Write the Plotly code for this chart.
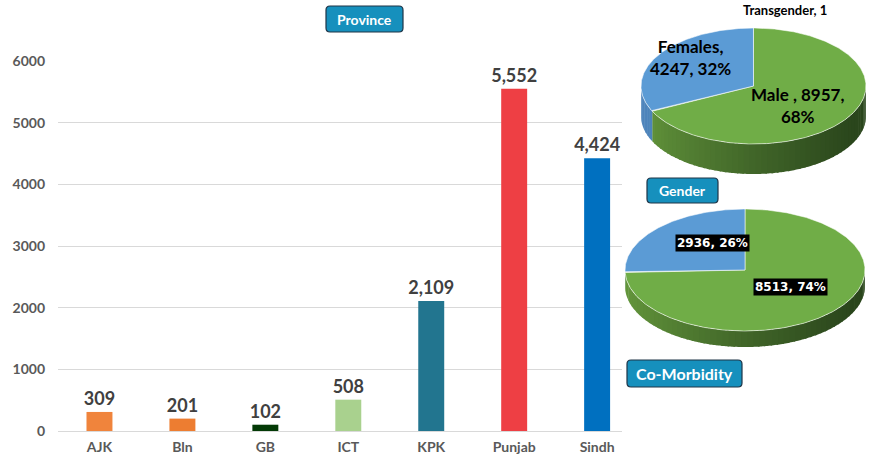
import numpy as np
import plotly.graph_objects as go

# ---------------- data ----------------
provinces = ["AJK", "Bln", "GB", "ICT", "KPK", "Punjab", "Sindh"]
cases = [309, 201, 102, 508, 2109, 5552, 4424]
bar_colors = ["#F0843C", "#ED7D31", "#033A06", "#A9D18E", "#22758F", "#EE3F44", "#0070C0"]
y_ticks = [0, 1000, 2000, 3000, 4000, 5000, 6000]

gender_labels = ["Male ", "Females", "Transgender"]
gender_values = [8957, 4247, 1]
gender_colors = ["#70AD47", "#5B9BD5", "#A5A5A5"]

comorb_values = [8513, 2936]
comorb_colors = ["#70AD47", "#5B9BD5"]

W, H = 874, 462
FONT = "Lato"

fig = go.Figure()

# ---------------- bar chart ----------------
fig.add_trace(go.Bar(
    x=provinces, y=cases, marker=dict(color=bar_colors, line=dict(width=0)),
    texttemplate="%{y:,}", textposition="outside", constraintext="none",
    cliponaxis=False,
    textfont=dict(family=FONT, size=18, color="#404040", weight="bold"),
    hoverinfo="skip", xaxis="x", yaxis="y", showlegend=False,
))

# ---------------- 3D-ish elliptical pies ----------------
def lerp_color(c1, c2, t):
    a = [int(c1[i:i + 2], 16) for i in (1, 3, 5)]
    b = [int(c2[i:i + 2], 16) for i in (1, 3, 5)]
    return "rgb(%d,%d,%d)" % tuple(round(a[k] + (b[k] - a[k]) * t) for k in range(3))

side_shades = {
    "#70AD47": ("#64973C", "#2A461C"),
    "#5B9BD5": ("#4F86BD", "#3A6A99"),
    "#A5A5A5": ("#8A8A8A", "#6A6A6A"),
}

def pie3d(values, colors, cx, cy, a, b, depth):
    total = float(sum(values))
    bounds = np.concatenate([[0], np.cumsum(values) / total * 360.0])
    # sides first
    for i, col in enumerate(colors):
        s, e = max(bounds[i], 90.0), min(bounds[i + 1], 270.0)
        if e <= s:
            continue
        n = max(1, int(np.ceil((e - s) / 3.0)))
        edges = np.linspace(s, e, n + 1)
        light, dark = side_shades[col]
        for k in range(n):
            hi = min(edges[k + 1] + 0.8, e)
            th = np.radians(np.linspace(edges[k], hi, 6))
            xs = cx + a * np.sin(th)
            yt = cy - b * np.cos(th)
            xp = np.concatenate([xs, xs[::-1]])
            yp = np.concatenate([yt, (yt + depth)[::-1]])
            t = (np.sin(np.radians((edges[k] + edges[k + 1]) / 2)) + 1) / 2
            t = min(1.0, t ** 0.8 * 1.05)
            c = lerp_color(light, dark, t)
            fig.add_trace(go.Scatter(
                x=xp, y=yp, fill="toself", fillcolor=c, mode="none",
                hoverinfo="skip", showlegend=False, xaxis="x2", yaxis="y2"))
    # top faces
    for i, col in enumerate(colors):
        s, e = bounds[i], bounds[i + 1]
        if e - s < 0.5:
            continue
        th = np.radians(np.linspace(s, e, max(4, int((e - s) * 1.5))))
        xp = np.concatenate([[cx], cx + a * np.sin(th), [cx]])
        yp = np.concatenate([[cy], cy - b * np.cos(th), [cy]])
        fig.add_trace(go.Scatter(
            x=xp, y=yp, fill="toself", fillcolor=col, mode="lines",
            line=dict(color="rgba(255,255,255,0.55)", width=1), hoverinfo="skip",
            showlegend=False, xaxis="x2", yaxis="y2"))

pie3d(gender_values, gender_colors, 753.5, 86, 112.5, 58, 30)
pie3d(comorb_values, comorb_colors, 745, 270, 120, 61, 16)

# ---------------- labels ----------------
gt = sum(gender_values)
gp = [round(v * 100 / gt) for v in gender_values]
ct = sum(comorb_values)
cp = [round(v * 100 / ct) for v in comorb_values]

ann = []
lab_font = dict(family=FONT, size=17, color="#000000", weight="bold")
ann.append(dict(x=785, y=0.5, yanchor="top", text=f"{gender_labels[2]}, {gender_values[2]}",
                font=dict(family=FONT, size=13, color="#000000", weight="bold"),
                borderpad=0))
ann.append(dict(x=690, y=57, text=f"{gender_labels[1]},<br>{gender_values[1]}, {gp[1]}%",
                font=lab_font))
ann.append(dict(x=797, y=105, text=f"{gender_labels[0]}, {gender_values[0]},<br>{gp[0]}%",
                font=lab_font))
box_font = dict(family="DejaVu Sans", size=12, color="#FFFFFF", weight="bold")
ann.append(dict(x=712, y=243, text=f"{comorb_values[1]}, {cp[1]}%", font=box_font,
                bgcolor="#000000", borderpad=1))
ann.append(dict(x=790, y=287, text=f"{comorb_values[0]}, {cp[0]}%", font=box_font,
                bgcolor="#000000", borderpad=1))

# ---------------- badges ----------------
def rrect(x0, y0, x1, y1, r):
    return (f"M {x0+r},{y0} L {x1-r},{y0} Q {x1},{y0} {x1},{y0+r} "
            f"L {x1},{y1-r} Q {x1},{y1} {x1-r},{y1} L {x0+r},{y1} "
            f"Q {x0},{y1} {x0},{y1-r} L {x0},{y0+r} Q {x0},{y0} {x0+r},{y0} Z")

badges = [
    ("Province", 326, 6, 403, 32, 14),
    ("Gender", 647, 178, 718, 203, 14),
    ("Co-Morbidity", 627, 360, 742, 387, 16),
]
shapes = []
for txt, x0, y0, x1, y1, fs in badges:
    shapes.append(dict(type="path", path=rrect(x0, y0, x1, y1, 4), xref="x2", yref="y2",
                       fillcolor="#1690BD", line=dict(color="#1E3447", width=1.2)))
    ann.append(dict(x=(x0 + x1) / 2, y=(y0 + y1) / 2, text=txt,
                    font=dict(family=FONT, size=fs, color="#FFFFFF", weight="bold")))

for a_ in ann:
    a_.setdefault("yanchor", "middle")
    a_.update(xref="x2", yref="y2", showarrow=False, xanchor="center")

fig.update_layout(
    width=W, height=H, margin=dict(l=0, r=0, t=0, b=0, autoexpand=False),
    paper_bgcolor="#FFFFFF", plot_bgcolor="rgba(0,0,0,0)",
    bargap=0.687, showlegend=False,
    annotations=ann, shapes=shapes,
    xaxis=dict(domain=[58 / W, 622 / W], range=[-0.5, 6.3], showgrid=False,
               showline=False, ticks="", zeroline=False, fixedrange=True,
               automargin=False,
               tickfont=dict(family=FONT, size=14, color="#595959", weight="bold"),
               ticklabelstandoff=6, anchor="y"),
    yaxis=dict(domain=[(H - 431) / H, (H - 61) / H], range=[0, 6000],
               tickvals=y_ticks, showgrid=True, gridcolor="#D9D9D9", gridwidth=1,
               zeroline=True, zerolinecolor="#D9D9D9", zerolinewidth=1,
               showline=False, ticks="", fixedrange=True, automargin=False,
               tickfont=dict(family=FONT, size=14, color="#595959", weight="bold"),
               ticklabelstandoff=12, anchor="x"),
    xaxis2=dict(domain=[0, 1], range=[0, W], visible=False, anchor="y2",
                fixedrange=True, automargin=False),
    yaxis2=dict(domain=[0, 1], range=[H, 0], visible=False, anchor="x2",
                fixedrange=True, automargin=False),
)

fig.write_html("out.html", config={"displayModeBar": False},
               post_script="document.body.style.margin='0';")
